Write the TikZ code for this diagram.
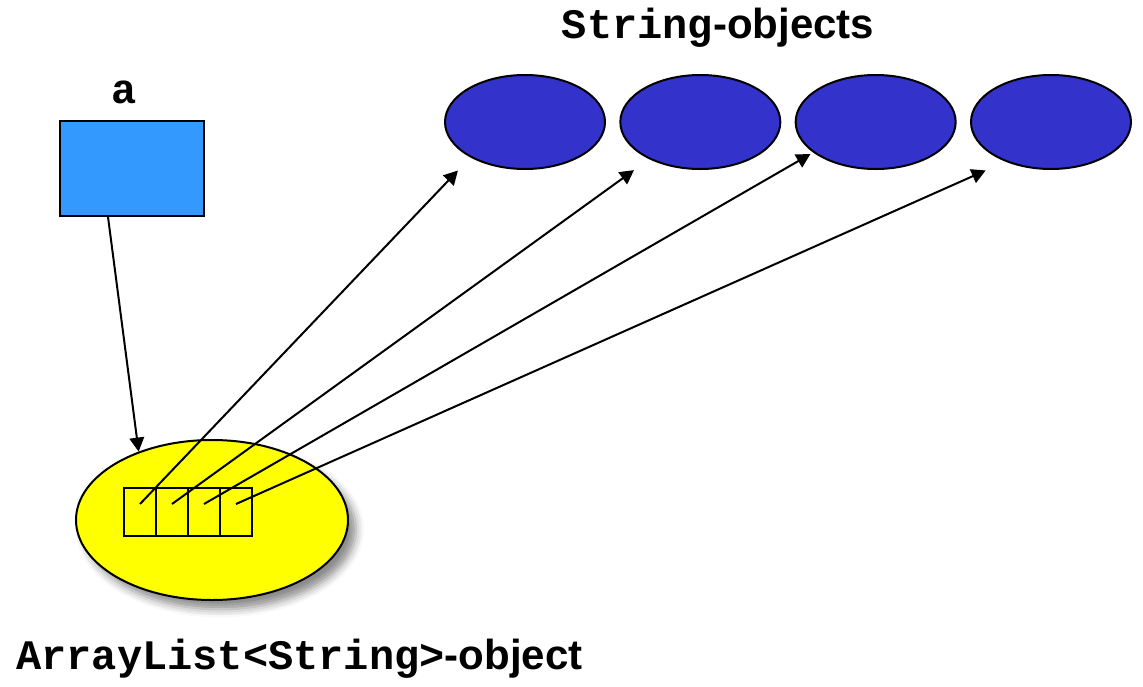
\documentclass[tikz,border=0pt]{standalone}
\usepackage{fontspec}
\setmainfont{Liberation Sans}
\setsansfont{Liberation Sans}
\setmonofont{Liberation Mono}
\usetikzlibrary{positioning,shapes.geometric,arrows.meta,shadows.blur}
\definecolor{refblue}{HTML}{3399FF}
\definecolor{objblue}{HTML}{3333CC}
\definecolor{listyellow}{HTML}{FFFF00}
\begin{document}
\begin{tikzpicture}[
        x=0.75pt, y=-0.75pt,
        label/.style={font=\fontsize{31.5}{36}\selectfont\bfseries, inner sep=0pt},
        refbox/.style={rectangle, draw, line width=1.5pt, fill=refblue, minimum width=108pt, minimum height=71pt},
        strobj/.style={ellipse, draw, line width=1.5pt, fill=objblue, minimum width=120pt, minimum height=70.5pt},
        listobj/.style={ellipse, draw, line width=1.5pt, fill=listyellow, minimum width=204pt, minimum height=120pt,
            blur shadow={shadow xshift=6pt, shadow yshift=-7pt, shadow blur radius=6pt, shadow opacity=45}},
        cell/.style={rectangle, draw, line width=1.5pt, minimum width=24pt, minimum height=36pt, inner sep=0pt},
        arrow/.style={-{Triangle[length=10.5pt, width=11pt]}, line width=1.5pt}
    ]
        \useasboundingbox (0,0) rectangle (1143,686);

        % Referenz a
        \node[refbox] (a) at (132, 168.5) {};
        \node[label, anchor=base] (alabel) at (124, 103) {\ttfamily a};

        % String-Objekte (4 Ellipsen)
        \foreach \i in {1,...,4}
            \node[strobj] (s\i) at ({525+175.33*(\i-1)}, 122) {};
        \node[label, anchor=base] (slabel) at (718, 38) {{\ttfamily String}-objects};

        % ArrayList-Objekt mit 4 Zellen
        \node[listobj] (list) at (212, 520) {};
        \foreach \i in {1,...,4}
            \node[cell] (c\i) at ({140+32*(\i-1)}, 512) {};
        \node[label, anchor=base west] (llabel) at (16, 669) {{\ttfamily ArrayList<String>}-object};

        % Verbindung a -> ArrayList
        \draw[arrow] ([xshift=-18pt]a.south) -- (list.137);

        % Verbindungen Zellen -> String-Objekte
        \foreach \i/\ang/\gap in {1/213/13.5, 2/216/14, 3/206/2.3, 4/221/16.2}
            \draw[arrow, shorten >=\gap pt] ([yshift=6pt]c\i.center) -- (s\i.\ang);

    \end{tikzpicture}
\end{document}
